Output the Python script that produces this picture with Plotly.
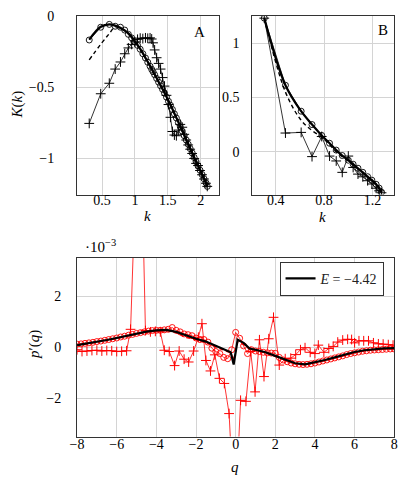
import plotly.graph_objects as go

W, H = 407, 481

# ---------------- Panel A data ----------------
kA = [0.305, 0.48, 0.61, 0.70, 0.78, 0.845, 0.90, 0.95, 1.00, 1.04, 1.08, 1.12, 1.16, 1.195,
      1.23, 1.255, 1.275, 1.30, 1.33, 1.36, 1.39, 1.42, 1.45, 1.48, 1.51, 1.54, 1.57, 1.60,
      1.63, 1.66, 1.69, 1.72, 1.75, 1.78, 1.81, 1.84, 1.87, 1.90, 1.93, 1.96, 1.99, 2.02,
      2.05, 2.08, 2.10]
KA_thick = [-0.163, -0.072, -0.055, -0.064, -0.080, -0.098, -0.118, -0.142, -0.175, -0.200,
            -0.228, -0.258, -0.290, -0.318, -0.347, -0.368, -0.385, -0.407, -0.433, -0.459,
            -0.484, -0.510, -0.537, -0.565, -0.593, -0.622, -0.652, -0.682, -0.712, -0.743,
            -0.774, -0.805, -0.836, -0.867, -0.897, -0.928, -0.958, -0.990, -1.020, -1.050,
            -1.080, -1.110, -1.140, -1.170, -1.195]
KA_circ = [-0.165, -0.075, -0.055, -0.068, -0.075, -0.095, -0.125, -0.150, -0.180, -0.203,
           -0.230, -0.262, -0.292, -0.322, -0.350, -0.372, -0.388, -0.410, -0.436, -0.462,
           -0.488, -0.513, -0.540, -0.568, -0.597, -0.625, -0.655, -0.686, -0.715, -0.747,
           -0.777, -0.808, -0.840, -0.870, -0.900, -0.931, -0.961, -0.993, -1.023, -1.053,
           -1.083, -1.113, -1.143, -1.172, -1.197]
KA_dash = [-0.305, -0.195, -0.120, -0.072, -0.082, -0.100, -0.121, -0.145, -0.178, -0.203,
           -0.231, -0.261, -0.293, -0.321, -0.350, -0.371, -0.388, -0.410, -0.436, -0.462,
           -0.487, -0.513, -0.540, -0.568, -0.596, -0.625, -0.655, -0.685, -0.715, -0.746,
           -0.777, -0.808, -0.839, -0.870, -0.900, -0.931, -0.961, -0.993, -1.023, -1.053,
           -1.083, -1.113, -1.143, -1.173, -1.197]
KA_plus = [-0.753, -0.544, -0.470, -0.370, -0.320, -0.262, -0.221, -0.196, -0.178, -0.160,
           -0.152, -0.155, -0.150, -0.153, -0.150, -0.158, -0.185, -0.235, -0.290, -0.330,
           -0.370, -0.430, -0.490, -0.555, -0.620, -0.710, -0.810, -0.835, -0.840, -0.800,
           -0.760, -0.780, -0.830, -0.870, -0.905, -0.935, -0.965, -1.000, -1.035, -1.050,
           -1.085, -1.115, -1.145, -1.175, -1.197]

# ---------------- Panel B data ----------------
kB = [0.305, 0.48, 0.61, 0.70, 0.78, 0.845, 0.90, 0.95, 1.00, 1.04, 1.08, 1.12, 1.16, 1.195,
      1.23, 1.255, 1.275]
KB_thick = [1.23, 0.612, 0.373, 0.250, 0.150, 0.078, 0.015, -0.035, -0.078, -0.115, -0.152,
            -0.190, -0.230, -0.262, -0.300, -0.335, -0.373]
KB_circ = [1.23, 0.612, 0.373, 0.250, 0.150, 0.078, 0.015, -0.035, -0.078, -0.115, -0.152,
           -0.190, -0.230, -0.262, -0.300, -0.335, -0.373]
KB_dash = [1.23, 0.550, 0.290, 0.195, 0.135, 0.065, 0.000, -0.045, -0.085, -0.125, -0.160,
           -0.195, -0.235, -0.265, -0.305, -0.338, -0.376]
KB_plus = [1.23, 0.172, 0.178, -0.045, 0.140, -0.040, -0.085, -0.190, -0.040, -0.145, -0.206,
           -0.231, -0.267, -0.297, -0.336, -0.360, -0.378]

# ---------------- Bottom panel data (p' in units of 1e-3) ----------------
q_black = [-8, -7.5, -7, -6.5, -6, -5.5, -5, -4.5, -4, -3.5, -3, -2.5, -2, -1.5, -1, -0.5,
           -0.25, -0.1, 0.1, 0.4, 0.7, 1, 1.5, 2, 2.5, 3, 3.5, 4, 4.5, 5, 5.5, 6, 6.5, 7, 7.5, 8]
p_black = [0.08, 0.14, 0.20, 0.28, 0.36, 0.45, 0.54, 0.61, 0.66, 0.68, 0.60, 0.46, 0.33, 0.22,
           0.04, -0.13, -0.20, -0.68, 0.29, 0.17, -0.05, -0.10, -0.20, -0.34, -0.50, -0.63,
           -0.67, -0.60, -0.50, -0.40, -0.29, -0.19, -0.12, -0.08, -0.05, -0.04]
p_dash = [0.06, 0.12, 0.18, 0.26, 0.34, 0.43, 0.52, 0.59, 0.64, 0.65, 0.57, 0.38, 0.30, 0.18,
          0.00, -0.15, -0.22, -0.50, 0.20, 0.10, -0.08, -0.12, -0.22, -0.36, -0.52, -0.65,
          -0.69, -0.62, -0.52, -0.42, -0.31, -0.21, -0.14, -0.10, -0.07, -0.06]

q_circ = [-8.0, -7.8, -7.6, -7.4, -7.2, -7.0, -6.8, -6.6, -6.4, -6.2, -6.0, -5.8, -5.6, -5.4,
          -5.2, -5.0, -4.8, -4.6, -4.4, -4.2, -4.0, -3.8, -3.6, -3.4, -3.2, -3.0, -2.8, -2.6,
          -2.4, -2.2, -2.0, -1.8, -1.6, -1.4, -1.2, -1.0, -0.8, -0.6, -0.4, -0.2, 0.0, 0.2,
          0.4, 0.6, 0.8, 1.0, 1.2, 1.4, 1.6, 1.8, 2.0, 2.2, 2.4, 2.6, 2.8, 3.0, 3.2, 3.4, 3.6,
          3.8, 4.0, 4.2, 4.4, 4.6, 4.8, 5.0, 5.2, 5.4, 5.6, 5.8, 6.0, 6.2, 6.4, 6.6, 6.8, 7.0,
          7.2, 7.4, 7.6, 7.8, 8.0]
p_circ = [0.12, 0.13, 0.15, 0.17, 0.19, 0.22, 0.24, 0.27, 0.30, 0.33, 0.36, 0.40, 0.43, 0.47,
          0.50, 0.54, 0.57, 0.60, 0.63, 0.65, 0.66, 0.66, 0.68, 0.70, 0.77, 0.66, 0.60, 0.52,
          0.49, 0.45, 0.36, 0.30, 0.30, 0.20, -0.04, -0.17, -0.25, -0.40, -0.45, -0.10, 0.58,
          0.35, 0.05, -0.25, -0.10, -0.15, -0.17, -0.20, -0.22, -0.23, -0.24, -0.40, -0.50,
          -0.57, -0.62, -0.65, -0.67, -0.68, -0.67, -0.65, -0.62, -0.58, -0.54, -0.50, -0.46,
          -0.42, -0.38, -0.34, -0.29, -0.25, -0.22, -0.19, -0.16, -0.14, -0.12, -0.11, -0.10,
          -0.09, -0.08, -0.07, -0.07]

q_plus = [-8.0, -7.75, -7.5, -7.25, -7.0, -6.75, -6.5, -6.25, -6.0, -5.75, -5.5, -5.3, -4.85,
          -4.55, -4.3, -4.05, -3.8, -3.6, -3.35, -3.08, -2.85, -2.6, -2.37, -2.12, -1.88,
          -1.7, -1.5, -1.27, -1.05, -0.82, -0.57, -0.33, -0.04, 0.25, 0.52, 0.76, 0.98, 1.2,
          1.43, 1.67, 1.91, 2.2, 2.5, 2.78, 3.03, 3.27, 3.5, 3.76, 4.0, 4.17, 4.45, 4.7, 4.92,
          5.15, 5.4, 5.65, 5.85, 6.0, 6.22, 6.46, 6.7, 6.95, 7.2, 7.44, 7.7, 7.94]
p_plus = [-0.10, -0.17, -0.15, -0.13, -0.12, -0.15, -0.13, -0.14, -0.17, -0.16, -0.14, 0.70,
          11.0, 0.65, 0.60, 0.62, 0.60, -0.12, -0.17, -0.72, -0.15, -0.47, -0.58, -0.15, 0.39,
          0.92, -0.52, -0.93, -0.30, -1.22, -1.42, -2.60, -7.00, -2.08, -2.12, -0.17, -1.75,
          0.29, -1.15, 0.33, 1.17, -0.70, -0.45, -0.43, -0.29, -0.10, -0.02, -0.20, -0.25,
          0.08, -0.20, -0.05, 0.03, 0.20, 0.28, 0.31, 0.30, 0.17, 0.25, 0.25, 0.25, 0.17,
          0.13, 0.12, 0.10, 0.08]

legend_label = "<i>E</i> = −4.42"

FONT = "Liberation Serif, Times New Roman, DejaVu Serif, serif"
RED = "#ff0000"

fig = go.Figure()


def add_panel(xa, ya, k_plus, v_plus, k_circ, v_circ, k_dash, v_dash, k_thick, v_thick,
              color, thick_color, thick_name=None, smooth=False):
    fig.add_trace(go.Scatter(x=k_plus, y=v_plus, mode="lines+markers", xaxis=xa, yaxis=ya,
                             line=dict(color=color, width=0.8),
                             marker=dict(symbol="cross-thin", size=7,
                                         line=dict(color=color, width=1)),
                             showlegend=False))
    fig.add_trace(go.Scatter(x=k_circ, y=v_circ, mode="lines+markers", xaxis=xa, yaxis=ya,
                             line=dict(color=color, width=0.8),
                             marker=dict(symbol="circle-open", size=6,
                                         line=dict(color=color, width=0.9)),
                             showlegend=False))
    fig.add_trace(go.Scatter(x=k_dash, y=v_dash, mode="lines", xaxis=xa, yaxis=ya,
                             line=dict(color=color, width=1.4, dash="4px,3px",
                                       shape="spline" if smooth else "linear"),
                             showlegend=False))
    fig.add_trace(go.Scatter(x=k_thick, y=v_thick, mode="lines", xaxis=xa, yaxis=ya,
                             line=dict(color=thick_color, width=2.2,
                                       shape="spline" if smooth else "linear"),
                             name=thick_name if thick_name else "",
                             showlegend=thick_name is not None))


add_panel("x", "y", kA, KA_plus, kA, KA_circ, kA, KA_dash, kA, KA_thick, "black", "black",
          smooth=True)
add_panel("x2", "y2", kB, KB_plus, kB, KB_circ, kB, KB_dash, kB, KB_thick, "black", "black",
          smooth=True)
add_panel("x3", "y3", q_plus, p_plus, q_circ, p_circ, q_black, p_dash, q_black, p_black,
          RED, "black", thick_name=legend_label)


def px(x):
    return x / W


def py(y):
    return 1 - y / H


axis_common = dict(showgrid=True, gridcolor="#d4d4d4", gridwidth=1, zeroline=False,
                   showline=True, mirror=True, linecolor="#333333", linewidth=1,
                   tickfont=dict(family=FONT, size=14, color="black"))
# invisible outside ticks, used only to control the gap between labels and the frame
yticks = dict(ticks="outside", tickcolor="rgba(0,0,0,0)", tickwidth=1)

fig.update_layout(
    width=W, height=H,
    margin=dict(l=0, r=0, t=0, b=0, pad=0),
    paper_bgcolor="white", plot_bgcolor="white",
    font=dict(family=FONT, size=14, color="black"),
    xaxis=dict(domain=[px(72), px(218)], range=[0.12, 2.28], tickvals=[0.5, 1, 1.5, 2],
               ticktext=["0.5", "1", "1.5", "2"], anchor="y", ticks="", ticklabelstandoff=-7,
               **axis_common),
    yaxis=dict(domain=[py(191), py(10)], range=[-1.255, 0.005], tickvals=[0, -0.5, -1],
               ticktext=["0", "−0.5", "−1"], anchor="x", ticklen=19, **yticks, **axis_common),
    xaxis2=dict(domain=[px(252), px(398)], range=[0.205, 1.38], tickvals=[0.4, 0.8, 1.2],
                ticktext=["0.4", "0.8", "1.2"], anchor="y2", ticks="", ticklabelstandoff=-7,
                **axis_common),
    yaxis2=dict(domain=[py(191), py(10)], range=[-0.395, 1.251], tickvals=[0, 0.5, 1],
                ticktext=["0", "0.5", "1"], anchor="x2", ticklen=9, **yticks, **axis_common),
    xaxis3=dict(domain=[px(72), px(398)], range=[-8, 8], tickvals=[-8, -6, -4, -2, 0, 2, 4, 6, 8],
                ticktext=["−8", "−6", "−4", "−2", "0", "2", "4", "6", "8"], anchor="y3",
                ticks="", ticklabelstandoff=-5, **axis_common),
    yaxis3=dict(domain=[py(436), py(255)], range=[-3.5, 3.5], tickvals=[-2, 0, 2],
                ticktext=["−2", "0", "2"], anchor="x3", ticklen=12, **yticks, **axis_common),
    showlegend=True,
    legend=dict(x=px(387), y=py(259), xanchor="right", yanchor="top",
                bgcolor="white", bordercolor="#333333", borderwidth=1,
                font=dict(family=FONT, size=14, color="#222222"),
                itemwidth=30, tracegroupgap=0),
)

ann = [
    dict(x=px(11), y=py(100), text="<i>K</i>(<i>k</i>)", textangle=-90),
    dict(x=px(144), y=py(213), text="<i>k</i>"),
    dict(x=px(324), y=py(214), text="<i>k</i>"),
    dict(x=px(234), y=py(467), text="<i>q</i>"),
    dict(x=px(29), y=py(343), text="<i>p</i>′(<i>q</i>)", textangle=-90),
    dict(x=px(198), y=py(26), text="A"),
    dict(x=px(386), y=py(24), text="B"),
    dict(x=px(96), y=py(243), text="·10<sup>−3</sup>"),
]
for a in ann:
    fig.add_annotation(xref="paper", yref="paper", showarrow=False,
                       xanchor="center", yanchor="middle",
                       font=dict(family=FONT, size=15, color="black"), **a)

fig.write_html("out.html", config={"displayModeBar": False},
               post_script="document.body.style.margin='0';document.body.style.padding='0';")
